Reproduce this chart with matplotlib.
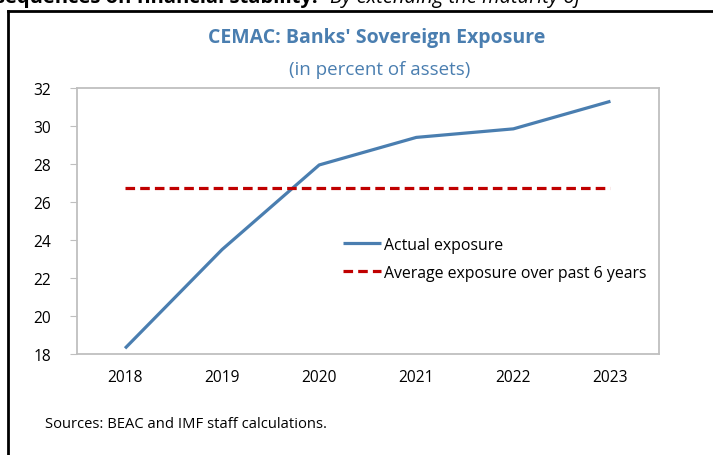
import matplotlib
matplotlib.use("Agg")
import matplotlib.pyplot as plt
from matplotlib.lines import Line2D

years = ["2018", "2019", "2020", "2021", "2022", "2023"]
actual = [18.3, 23.5, 27.95, 29.4, 29.85, 31.3]
average = [26.72] * 6
yticks = [18, 20, 22, 24, 26, 28, 30, 32]

plt.rcParams['font.family'] = ['Open Sans', 'DejaVu Sans']

W, H = 713, 456
fig = plt.figure(figsize=(W / 100, H / 100), dpi=100)
fig.patch.set_facecolor("white")

def fx(px):
    return px / W

def fy(py):
    return 1 - py / H

ax = fig.add_axes([fx(76.5), fy(355), fx(659) - fx(76.5), fy(89) - fy(355)])
x = list(range(len(years)))
ax.plot(x, actual, color="#4A7EB0", lw=2.3, label="Actual exposure", solid_capstyle="butt")
ax.plot(x, average, color="#C00000", lw=2.3, ls=(0, (3, 1.6)), label="Average exposure over past 6 years")
ax.set_xlim(-0.5, 5.5)
ax.set_ylim(18, 32)
ax.set_yticks(yticks)
ax.set_yticklabels([str(v) for v in yticks])
ax.set_xticks(x)
ax.set_xticklabels(years)
for s in ax.spines.values():
    s.set_color("#BFBFBF")
    s.set_linewidth(1.3)
ax.tick_params(axis="y", direction="out", length=5, color="#BFBFBF", labelsize=11.2, pad=13)
ax.tick_params(axis="x", length=0, labelsize=11.2, pad=11)
leg = ax.legend(loc="upper left", bbox_to_anchor=((343 - 76.5) / (659 - 76.5), 1 - (238 - 89) / 266),
                frameon=False, fontsize=11.4, handlelength=2.4, handletextpad=0.2,
                labelspacing=0.75, borderaxespad=0, borderpad=0)

fig.text(fx(377), fy(38), "CEMAC: Banks' Sovereign Exposure", ha="center", va="center",
         fontsize=14, fontweight="bold", color="#4A7EB0")
fig.text(fx(380), fy(70), "(in percent of assets)", ha="center", va="center",
         fontsize=13.5, color="#4A7EB0")
fig.text(fx(45), fy(425), "Sources: BEAC and IMF staff calculations.", ha="left", va="center",
         fontsize=10.6, color="black")

# clipped text line above the box (cut off at the top edge, as in the source page)
fig.text(fx(318), fy(3), "sequences on financial stability:", ha="right", va="baseline",
         fontsize=14.5, fontweight="bold", color="black")
fig.text(fx(330), fy(3), "By extending the maturity of", ha="left", va="baseline",
         fontsize=14.5, fontstyle="italic", color="black")

# outer box
fig.add_artist(Line2D([fx(8), fx(8)], [fy(12), 0], color="black", lw=2, transform=fig.transFigure))
fig.add_artist(Line2D([fx(8), 1], [fy(12), fy(12)], color="black", lw=2, transform=fig.transFigure))

fig.savefig("out.png", dpi=100)
